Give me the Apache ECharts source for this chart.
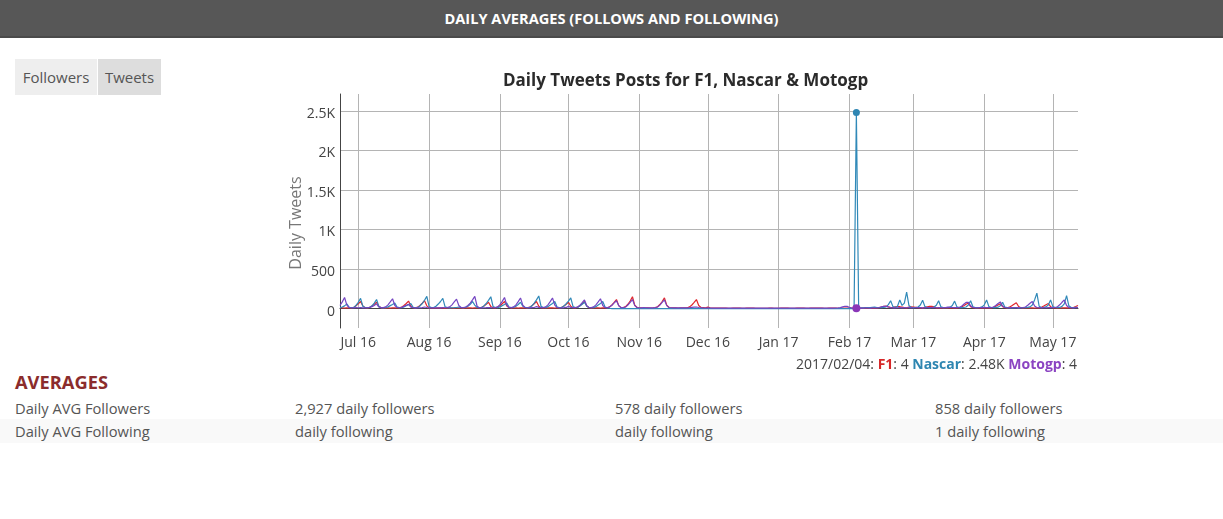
<!DOCTYPE html>
<html>
<head>
<meta charset="utf-8">
<title>Daily Tweets Posts</title>
<script src="https://cdn.jsdelivr.net/npm/echarts@6/dist/echarts.min.js"></script>
<style>
  html, body { margin: 0; padding: 0; width: 1223px; height: 519px; overflow: hidden; background: #fff; font-family: "Open Sans", sans-serif; }
  .header { position: absolute; left: 0; top: 0; width: 1223px; height: 36px; background: #575757; border-bottom: 2px solid #4a4a4a;
            color: #fff; font-weight: bold; font-size: 14.6px; line-height: 36px; text-align: center; }
  .tabs { position: absolute; left: 15px; top: 59px; }
  .tabs span { float: left; height: 36px; line-height: 36px; text-align: center; font-size: 15px; color: #555; background: #eee; }
  .tabs span.active { background: #ddd; margin-left: 1px; }
  .avg-title { position: absolute; left: 15px; top: 371px; font-size: 18.3px; line-height: 22px; font-weight: bold; color: #8b2c2c; }
  .avg-row { position: absolute; left: 0; width: 1223px; font-size: 14.7px; color: #555; }
  .avg-row.odd { background: #f9f9f9; }
  .avg-row span { position: absolute; top: 0; white-space: nowrap; }
  #chart { position: absolute; left: 0; top: 0; width: 1223px; height: 519px; }
</style>
</head>
<body>
<div class="header">DAILY AVERAGES (FOLLOWS AND FOLLOWING)</div>
<div class="tabs"><span style="width:82px">Followers</span><span class="active" style="width:63px">Tweets</span></div>
<div class="avg-title">AVERAGES</div>
<div id="rows"></div>
<div id="chart"></div>
<script>
// one value per day, starting on this date
const startDay = [2016, 6, 23];

// F1 daily tweets, one line per week (Mon..Sun), first line Thu..Sun
const f1Tweets = [
  12, 10, 8, 9,
  8, 9, 14, 35, 60, 90, 35,
  12, 10, 16, 32, 55, 80, 30,
  10, 8, 7, 9, 8, 10, 9,
  8, 10, 18, 40, 65, 95, 30,
  12, 10, 18, 40, 68, 100, 35,
  12, 9, 8, 8, 10, 9, 8,
  7, 8, 9, 8, 7, 9, 8,
  8, 7, 9, 10, 9, 8, 10,
  9, 10, 16, 34, 56, 80, 28,
  12, 10, 18, 36, 62, 90, 32,
  12, 9, 8, 9, 8, 10, 9,
  9, 10, 18, 36, 62, 90, 30,
  11, 9, 8, 9, 10, 9, 8,
  9, 10, 16, 34, 56, 80, 30,
  12, 10, 18, 36, 62, 90, 32,
  11, 9, 8, 10, 9, 8, 9,
  9, 11, 22, 46, 78, 115, 38,
  13, 12, 25, 55, 95, 150, 45,
  14, 10, 9, 8, 10, 9, 8,
  9, 12, 24, 52, 90, 135, 45,
  14, 10, 9, 9, 8, 10, 9,
  9, 11, 22, 46, 78, 115, 40,
  14, 12, 9, 18, 10, 7, 6,
  6, 5, 5, 6, 5, 4, 4,
  5, 5, 6, 5, 4, 4, 5,
  5, 6, 5, 4, 4, 3, 3,
  4, 4, 5, 5, 4, 3, 4,
  5, 5, 6, 5, 4, 4, 4,
  5, 6, 5, 5, 4, 4, 5,
  6, 5, 5, 6, 5, 4, 4,
  5, 6, 5, 5, 4, 4, 5,
  6, 5, 6, 5, 5, 4, 5,
  6, 7, 6, 8, 7, 6, 6,
  8, 12, 20, 28, 32, 22, 14,
  14, 22, 26, 24, 18, 12, 9,
  18, 22, 20, 16, 12, 9, 8,
  15, 24, 28, 30, 22, 10, 8,
  9, 8, 10, 9, 8, 9, 10,
  10, 12, 20, 36, 54, 70, 25,
  12, 10, 9, 10, 9, 8, 9,
  9, 10, 17, 30, 46, 60, 24,
  12, 10, 18, 36, 56, 75, 26,
  12, 9, 8, 9, 10, 9, 8,
  9, 10, 17, 32, 50, 65, 24,
  12, 10, 9, 8, 9, 10, 9,
  9, 10, 14, 26, 40
];

const nascarTweets = [
  12, 20, 35, 60,
  15, 12, 16, 40, 80, 130, 30,
  14, 12, 16, 35, 70, 115, 28,
  12, 10, 11, 22, 38, 52, 70,
  18, 12, 11, 22, 36, 50, 65,
  16, 12, 14, 34, 65, 105, 155,
  25, 14, 14, 30, 58, 90, 130,
  22, 12, 10, 11, 12, 14, 20,
  12, 11, 16, 30, 55, 90, 45,
  14, 12, 14, 34, 65, 105, 150,
  25, 14, 12, 22, 38, 52, 70,
  18, 12, 14, 30, 52, 80, 30,
  14, 12, 14, 36, 70, 110, 160,
  28, 14, 12, 25, 45, 65, 90,
  20, 13, 14, 32, 62, 95, 135,
  25, 14, 16, 32, 55, 80, 30,
  14, 12, 12, 25, 45, 65, 90,
  20, 10, 5, 1, 0, 0, 0,
  0, 0, 0, 0, 0, 0, 0,
  0, 0, 0, 0, 0, 0, 0,
  0, 0, 0, 0, 0, 0, 0,
  0, 0, 0, 0, 0, 0, 0,
  0, 0, 0, 0, 0, 0, 0,
  0, 0, 0, 0, 0, 0, 0,
  0, 0, 0, 0, 0, 0, 0,
  0, 0, 0, 0, 0, 0, 0,
  0, 0, 0, 0, 0, 0, 0,
  0, 0, 0, 0, 0, 0, 0,
  0, 0, 0, 0, 0, 0, 0,
  0, 0, 0, 0, 0, 0, 0,
  0, 0, 0, 0, 0, 0, 0,
  0, 0, 0, 0, 0, 0, 0,
  0, 0, 0, 0, 0, 2480, 8,
  10, 9, 12, 14, 12, 15, 18,
  14, 12, 13, 15, 22, 50, 100,
  25, 15, 30, 110, 40, 70, 210,
  40, 16, 13, 14, 20, 45, 105,
  25, 14, 12, 14, 20, 42, 100,
  22, 13, 12, 13, 18, 40, 95,
  22, 13, 12, 14, 20, 45, 100,
  24, 13, 12, 14, 22, 48, 110,
  25, 14, 12, 13, 18, 35, 80,
  18, 12, 11, 10, 12, 11, 10,
  11, 12, 13, 15, 22, 45, 110,
  195, 30, 14, 15, 22, 45, 110,
  25, 14, 12, 15, 28, 60, 165,
  35, 14, 12, 15, 14
];

const motogpTweets = [
  40, 85, 140, 45,
  14, 11, 10, 12, 11, 13, 10,
  10, 12, 16, 25, 40, 60, 20,
  12, 12, 22, 48, 85, 125, 40,
  14, 11, 16, 28, 42, 55, 18,
  12, 10, 9, 11, 12, 20, 14,
  10, 9, 10, 11, 9, 10, 12,
  11, 12, 22, 48, 85, 120, 40,
  14, 12, 20, 40, 70, 110, 155,
  30, 12, 10, 11, 12, 14, 12,
  11, 12, 22, 50, 92, 140, 45,
  14, 12, 22, 48, 88, 135, 45,
  14, 11, 10, 12, 14, 25, 15,
  12, 12, 22, 48, 88, 135, 45,
  14, 11, 10, 12, 15, 28, 14,
  12, 12, 20, 42, 75, 110, 38,
  13, 12, 22, 48, 85, 125, 40,
  13, 12, 20, 42, 72, 100, 35,
  13, 12, 20, 45, 80, 115, 38,
  14, 11, 10, 12, 11, 10, 11,
  10, 12, 20, 44, 78, 110, 38,
  14, 11, 10, 9, 10, 11, 10,
  9, 10, 12, 15, 18, 20, 14,
  11, 9, 8, 9, 8, 7, 8,
  7, 8, 7, 6, 7, 8, 7,
  6, 7, 8, 7, 6, 7, 6,
  7, 6, 7, 6, 5, 5, 6,
  6, 5, 6, 7, 6, 5, 6,
  7, 8, 7, 6, 7, 6, 7,
  8, 7, 6, 7, 8, 7, 6,
  7, 8, 7, 8, 7, 6, 7,
  7, 8, 7, 8, 9, 12, 22,
  30, 28, 15, 8, 6, 4, 6,
  8, 7, 9, 8, 7, 9, 8,
  10, 14, 22, 30, 28, 20, 12,
  10, 9, 11, 12, 10, 12, 11,
  12, 10, 11, 12, 14, 12, 10,
  10, 12, 14, 13, 12, 11, 12,
  11, 12, 14, 18, 16, 14, 12,
  12, 14, 28, 55, 78, 80, 35,
  14, 12, 11, 12, 13, 15, 12,
  12, 12, 20, 40, 65, 85, 30,
  14, 11, 10, 12, 11, 12, 10,
  11, 12, 20, 42, 68, 90, 32,
  14, 11, 10, 12, 11, 13, 12,
  12, 14, 24, 48, 80, 110, 40,
  14, 11, 10, 12, 11
];

const seriesNames = ["F1", "Nascar", "Motogp"];
const monthTicks = ["2016-07-01", "2016-08-01", "2016-09-01", "2016-10-01", "2016-11-01", "2016-12-01",
                    "2017-01-01", "2017-02-01", "2017-03-01", "2017-04-01", "2017-05-01"];
const monthLabels = ["Jul 16", "Aug 16", "Sep 16", "Oct 16", "Nov 16", "Dec 16",
                     "Jan 17", "Feb 17", "Mar 17", "Apr 17", "May 17"];
const yTicks = [0, 500, 1000, 1500, 2000, 2500];
const yTickLabels = ["0", "500", "1K", "1.5K", "2K", "2.5K"];
// the hovered day shown under the chart (2017/02/04)
const hoverIndex = 226;

const avgRowLabels = ["Daily AVG Followers", "Daily AVG Following"];
const avgFollowers = ["2,927 daily followers", "578 daily followers", "858 daily followers"];
const avgFollowing = ["daily following", "daily following", "1 daily following"];

// averages table
const rowsEl = document.getElementById("rows");
[[avgRowLabels[0]].concat(avgFollowers), [avgRowLabels[1]].concat(avgFollowing)].forEach((cells, r) => {
    const row = document.createElement("div");
    row.className = "avg-row" + (r === 1 ? " odd" : "");
    row.style.top = (r === 0 ? 397 : 419) + "px";
    row.style.height = (r === 0 ? 22 : 24) + "px";
    row.style.lineHeight = row.style.height;
    const xs = [15, 295, 615, 935];
    cells.forEach((c, i) => {
        const s = document.createElement("span");
        s.style.left = xs[i] + "px";
        s.textContent = c;
        row.appendChild(s);
    });
    rowsEl.appendChild(row);
});

function dayTime(i) {
    return new Date(startDay[0], startDay[1] - 1, startDay[2] + i).getTime();
}
function parseDay(s) {
    return new Date(+s.slice(0, 4), +s.slice(5, 7) - 1, +s.slice(8, 10)).getTime();
}
function toPairs(arr) {
    return arr.map((v, i) => [dayTime(i), v]);
}
function fmtK(v) {
    return v >= 1000 ? (v / 1000).toFixed(2).replace(/\.?0+$/, "") + "K" : String(v);
}
const monthTimes = monthTicks.map(parseDay);
const lastIndex = f1Tweets.length - 1;

const hd = new Date(dayTime(hoverIndex));
const hoverDate = hd.getFullYear() + "/" + String(hd.getMonth() + 1).padStart(2, "0") + "/" + String(hd.getDate()).padStart(2, "0");

const colors = ["#e0262d", "#3089b8", "#7445c2"];
const font = "'Open Sans', sans-serif";

const chart = echarts.init(document.getElementById("chart"));
chart.setOption({
    animation: false,
    title: {
        text: "Daily Tweets Posts for F1, Nascar & Motogp",
        left: 498,
        top: 68,
        textStyle: { fontFamily: font, fontSize: 17, fontWeight: "bold", color: "#2b2b2b" }
    },
    grid: { left: 340, top: 94, width: 738, height: 234 },
    xAxis: {
        type: "value",
        min: dayTime(0),
        max: dayTime(lastIndex),
        axisLine: { show: true, lineStyle: { color: "#444" } },
        axisTick: { show: false, customValues: monthTimes },
        axisLabel: {
            customValues: monthTimes,
            formatter: function (value) {
                const i = monthTimes.findIndex(t => Math.abs(t - value) < 3600000);
                return i >= 0 ? monthLabels[i] : "";
            },
            color: "#444", fontSize: 14, margin: 8, fontFamily: font
        },
        splitLine: { show: true, lineStyle: { color: "#b4b4b4" } }
    },
    yAxis: {
        type: "value",
        min: -245,
        max: 2713,
        axisLine: { show: true, lineStyle: { color: "#444" } },
        axisTick: { show: false, customValues: yTicks },
        axisLabel: {
            customValues: yTicks,
            formatter: function (value) {
                const i = yTicks.indexOf(value);
                return i >= 0 ? yTickLabels[i] : "";
            },
            verticalAlign: "top",
            lineHeight: 6,
            color: "#444", fontSize: 14, margin: 5, fontFamily: font
        },
        splitLine: { show: true, lineStyle: { color: "#b4b4b4" } }
    },
    series: [f1Tweets, nascarTweets, motogpTweets].map((arr, k) => ({
        name: seriesNames[k],
        type: "line",
        data: toPairs(arr),
        showSymbol: false,
        lineStyle: { width: 1.2, color: colors[k] },
        itemStyle: { color: colors[k] },
        markPoint: k === 0 ? undefined : {
            symbol: "circle",
            symbolSize: k === 2 ? 8 : 7,
            label: { show: false },
            itemStyle: { color: k === 2 ? "#8a36b8" : "#2f86b3" },
            data: [{ coord: [dayTime(hoverIndex), arr[hoverIndex]] }]
        }
    })),
    graphic: [{
        type: "text",
        x: 296,
        y: 223,
        rotation: Math.PI / 2,
        style: {
            text: "Daily Tweets",
            fontFamily: font, fontSize: 16, fill: "#777",
            align: "center", verticalAlign: "middle"
        }
    }, {
        type: "text",
        right: 146,
        top: 358,
        style: {
            text: "{d|" + hoverDate + ": }{f|F1}{d|: " + fmtK(f1Tweets[hoverIndex]) + " }" +
                  "{n|Nascar}{d|: " + fmtK(nascarTweets[hoverIndex]) + " }" +
                  "{m|Motogp}{d|: " + fmtK(motogpTweets[hoverIndex]) + "}",
            rich: {
                d: { fontFamily: font, fontSize: 14, fill: "#444" },
                f: { fontFamily: font, fontSize: 14, fontWeight: "bold", fill: "#d62728" },
                n: { fontFamily: font, fontSize: 14, fontWeight: "bold", fill: "#2e86b1" },
                m: { fontFamily: font, fontSize: 14, fontWeight: "bold", fill: "#8b44c2" }
            }
        }
    }]
});
</script>
</body>
</html>
